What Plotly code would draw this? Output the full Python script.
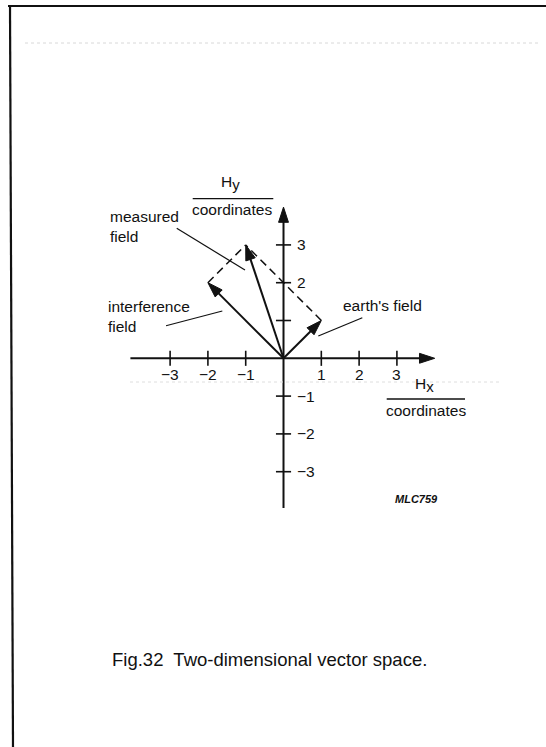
import plotly.graph_objects as go

# Field vectors (Hx, Hy components in coordinate units)
vector_names = ["earth's field", "interference field", "measured field"]
vector_hx = [1, -2, -1]
vector_hy = [1, 2, 3]

# Axis ticks
tick_values = [-3, -2, -1, 1, 2, 3]
x_tick_labels = ["\u22123", "\u22122", "\u22121", "1", "2", "3"]
# the Hy "1" position is left unlabelled (the earth's field vector sits there)
y_tick_labels = ["\u22123", "\u22122", "\u22121", "", "2", "3"]

# Axis extents (coordinate units)
x_axis_span = [-4.05, 4.0]
y_axis_span = [-3.96, 4.0]

INK = "#111111"
FONT = "Liberation Sans, Arial, Helvetica, sans-serif"

fig = go.Figure()


def arrow_trace(xs, ys, width=2.0, head=16):
    return go.Scatter(
        x=xs, y=ys, mode="lines+markers",
        line=dict(color=INK, width=width),
        marker=dict(symbol="arrow", angleref="previous", size=[0, head],
                    color=INK, opacity=1, line=dict(width=1, color=INK)),
        hoverinfo="skip", showlegend=False,
    )


# Coordinate axes with arrowheads
fig.add_trace(arrow_trace(x_axis_span, [0, 0]))
fig.add_trace(arrow_trace([0, 0], y_axis_span))

# Tick marks along both axes
tick_len = 0.2
tx, ty = [], []
for v in tick_values:
    tx += [v, v, None]
    ty += [-tick_len, tick_len, None]
    tx += [-tick_len, tick_len, None]
    ty += [v, v, None]
fig.add_trace(go.Scatter(x=tx, y=ty, mode="lines",
                         line=dict(color=INK, width=1.6),
                         hoverinfo="skip", showlegend=False))

# Parallelogram construction: earth + interference = measured
mx, my = vector_hx[2], vector_hy[2]
for i in (0, 1):
    fig.add_trace(go.Scatter(
        x=[vector_hx[i], mx], y=[vector_hy[i], my], mode="lines",
        line=dict(color=INK, width=1.5, dash="8px,5px"),
        hoverinfo="skip", showlegend=False))

# Field vectors from the origin
for name, hx, hy in zip(vector_names, vector_hx, vector_hy):
    fig.add_trace(arrow_trace([0, hx], [0, hy], width=2.0, head=16))

tick_font = dict(size=15.5, color=INK, family=FONT)
label_font = dict(size=15.5, color=INK, family=FONT)

# Tick labels
annotations = []
for v, lab in zip(tick_values, x_tick_labels):
    annotations.append(dict(x=v, y=-0.44, text=lab, showarrow=False,
                            xanchor="center", yanchor="middle", font=tick_font))
for v, lab in zip(tick_values, y_tick_labels):
    if lab:
        annotations.append(dict(x=0.3, y=v, text=lab, showarrow=False,
                                xanchor="left", yanchor="middle", font=tick_font))

# Vector labels with leader lines
labels = [
    ("measured<br>field", -4.643, 3.479, (-2.825, 3.439), (-1.019, 2.336)),
    ("interference<br>field", -4.696, 1.098, (-3.108, 0.862), (-1.619, 1.251)),
    ("earth's field", 1.521, 1.41, (0.921, 0.590), (2.085, 1.074)),
]
for text, lx, ly, p0, p1 in labels:
    annotations.append(dict(x=lx, y=ly, text=text, showarrow=False,
                            xanchor="left", yanchor="middle", align="left",
                            font=label_font))
    fig.add_trace(go.Scatter(x=[p0[0], p1[0]], y=[p0[1], p1[1]], mode="lines",
                             line=dict(color=INK, width=1.2),
                             hoverinfo="skip", showlegend=False))

sub = '<sub><span style="font-size:15px">{}</span></sub>'

# Axis titles (quantity over unit)
annotations += [
    dict(x=-1.415, y=4.64, text="H" + sub.format("y"), showarrow=False,
         xanchor="center", yanchor="middle", font=label_font),
    dict(x=-1.362, y=3.93, text="coordinates", showarrow=False,
         xanchor="center", yanchor="middle", font=label_font),
    dict(x=3.73, y=-0.70, text="H" + sub.format("x"), showarrow=False,
         xanchor="center", yanchor="middle", font=label_font),
    dict(x=3.77, y=-1.39, text="coordinates", showarrow=False,
         xanchor="center", yanchor="middle", font=label_font),
    dict(x=3.505, y=-3.722, text="<b><i>MLC759</i></b>", showarrow=False,
         xanchor="center", yanchor="middle",
         font=dict(size=11, color=INK, family=FONT)),
    dict(x=0.4945, y=0.1165, xref="paper", yref="paper",
         text="Fig.32  Two-dimensional vector space.", showarrow=False,
         xanchor="center", yanchor="middle",
         font=dict(size=18.5, color=INK, family=FONT)),
]

shapes = [
    # fraction bars under the axis quantities
    dict(type="line", x0=-2.402, x1=-0.27, y0=4.222, y1=4.222,
         line=dict(color=INK, width=1.3)),
    dict(type="line", x0=2.73, x1=4.802, y0=-1.077, y1=-1.077,
         line=dict(color=INK, width=1.3)),
    # page frame
    dict(type="line", xref="paper", yref="paper", x0=8 / 546, x1=1.0,
         y0=1 - 6 / 747, y1=1 - 6 / 747, line=dict(color=INK, width=2.2)),
    dict(type="line", xref="paper", yref="paper", x0=10 / 546, x1=13 / 546,
         y0=1 - 6 / 747, y1=0, line=dict(color=INK, width=2.2)),
    # faint print rules
    dict(type="line", xref="paper", yref="paper", x0=25 / 546, x1=540 / 546,
         y0=1 - 43 / 747, y1=1 - 43 / 747,
         line=dict(color="#d8d8d8", width=1, dash="dot")),
    dict(type="line", xref="paper", yref="paper", x0=130 / 546, x1=500 / 546,
         y0=1 - 382 / 747, y1=1 - 382 / 747,
         line=dict(color="#dedede", width=1, dash="dot")),
]

fig.update_layout(
    width=546, height=747, autosize=False,
    margin=dict(l=0, r=0, t=0, b=0),
    paper_bgcolor="white", plot_bgcolor="white",
    xaxis=dict(range=[-7.5, 6.944], visible=False, fixedrange=True),
    yaxis=dict(range=[-10.283, 9.479], visible=False, fixedrange=True),
    annotations=annotations, shapes=shapes,
    showlegend=False,
)

fig.write_html("out.html", config=dict(displayModeBar=False))
